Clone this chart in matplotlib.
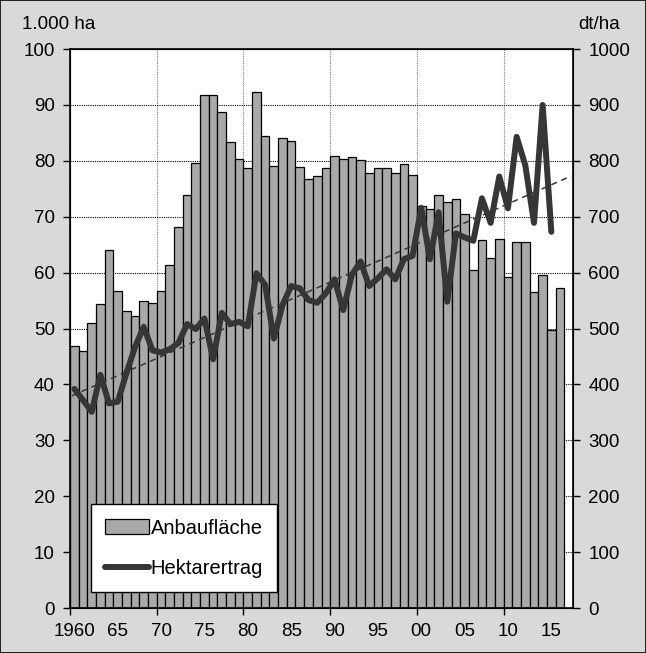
import numpy as np
import matplotlib
matplotlib.use("Agg")
import matplotlib.pyplot as plt
from matplotlib.patches import Rectangle

plt.rcParams['font.family'] = ['Liberation Sans', 'DejaVu Sans']

# Anbaufläche (1.000 ha), 1960-2016
years = np.arange(1960, 2017)
area = [46.9, 46.0, 51.0, 54.4, 64.0, 56.7, 53.1, 52.3, 54.9, 54.5,
        56.7, 61.3, 68.2, 73.9, 79.7, 91.8, 91.8, 88.7, 83.4, 80.3,
        78.8, 92.3, 84.5, 79.0, 84.0, 83.5, 78.9, 76.8, 77.3, 78.7,
        80.9, 80.4, 80.7, 80.1, 77.9, 78.8, 78.8, 77.9, 79.4, 77.5,
        71.9, 71.3, 73.8, 72.7, 73.1, 70.4, 60.5, 65.8, 62.6, 66.0,
        59.2, 65.5, 65.5, 56.6, 59.6, 49.7, 57.2]

# Hektarertrag (dt/ha), 1960-2015
yield_years = np.arange(1960, 2016)
yields = [392, 372, 351, 417, 366, 369, 420, 467, 503, 461,
          457, 463, 474, 508, 499, 518, 445, 528, 508, 512,
          504, 599, 578, 482, 542, 576, 572, 551, 546, 563,
          588, 533, 596, 620, 576, 590, 606, 588, 624, 630,
          716, 624, 708, 548, 670, 663, 657, 733, 689, 772,
          715, 843, 792, 689, 900, 673]

label_years = np.arange(1960, 2016, 5)
x_labels = ['1960', '65', '70', '75', '80', '85', '90', '95',
            '00', '05', '10', '15']

FS = 13.5
LEG_FS = 14.5

fig = plt.figure(figsize=(6.46, 6.53), dpi=100, facecolor='#d9d9d9')
fig.patches.append(Rectangle((0, 0), 1, 1, transform=fig.transFigure,
                             fill=False, edgecolor='black', linewidth=1.2))

ax = fig.add_axes([0.1084, 0.0689, 0.7786, 0.856])
ax.set_facecolor('white')

# bars occupy [year, year+1]
ax.bar(years, area, width=1.0, align='edge', color='#a9a9a9',
       edgecolor='black', linewidth=0.9, label='Anbaufläche', zorder=2)

ax.set_xlim(1960, 2018)
ax.set_ylim(0, 100)
ax.set_yticks(np.arange(0, 101, 10))
# year labels sit under the middle of their bar
ax.set_xticks(label_years + 0.5)
ax.set_xticklabels(x_labels)
ax.set_xticks(np.arange(1960, 2018, 10), minor=True)
ax.tick_params(axis='x', which='major', length=0, pad=11, labelsize=FS)
ax.tick_params(axis='x', which='minor', length=5, width=1, direction='out')
ax.tick_params(axis='y', length=5, width=1, direction='out', pad=6,
               labelsize=FS)

ax.set_axisbelow(True)
ax.grid(axis='y', which='major', linestyle=(0, (1, 1)), color='black',
        linewidth=0.8)
ax.grid(axis='x', which='minor', linestyle=(0, (1, 1)), color='#7f7f7f',
        linewidth=0.8)
for sp in ax.spines.values():
    sp.set_linewidth(1.2)
    sp.set_color('black')

ax2 = ax.twinx()
ax2.set_ylim(0, 1000)
ax2.set_yticks(np.arange(0, 1001, 100))
ax2.tick_params(axis='y', length=5, width=1, direction='out', pad=6,
                labelsize=FS)

xc = yield_years + 0.5
ax2.plot(xc, yields, color='#363636', linewidth=4.3,
         solid_joinstyle='round', solid_capstyle='round',
         label='Hektarertrag', zorder=3)

# linear trend of the yield series
coef = np.polyfit(xc, yields, 1)
tx = np.array([1960.2, 2017.8])
ax2.plot(tx, np.polyval(coef, tx), color='#363636', linewidth=1.1,
         linestyle=(0, (4, 3)), zorder=3)

ax2.set_xlim(1960, 2018)

fig.text(0.034, 0.962, '1.000 ha', fontsize=FS, ha='left', va='center')
fig.text(0.960, 0.962, 'dt/ha', fontsize=FS, ha='right', va='center')

h1, l1 = ax.get_legend_handles_labels()
h2, l2 = ax2.get_legend_handles_labels()
leg = ax2.legend(h1 + h2, l1 + l2, loc='lower left',
                 bbox_to_anchor=(0.042, 0.029), fontsize=LEG_FS,
                 frameon=True, fancybox=False, shadow=False,
                 borderpad=0.7, labelspacing=1.05, handlelength=2.15,
                 handletextpad=0.1, borderaxespad=0)
leg.get_frame().set_edgecolor('black')
leg.get_frame().set_linewidth(1.0)
leg.get_frame().set_facecolor('white')
leg.get_frame().set_alpha(1)

fig.savefig('out.png', dpi=100, facecolor=fig.get_facecolor())
